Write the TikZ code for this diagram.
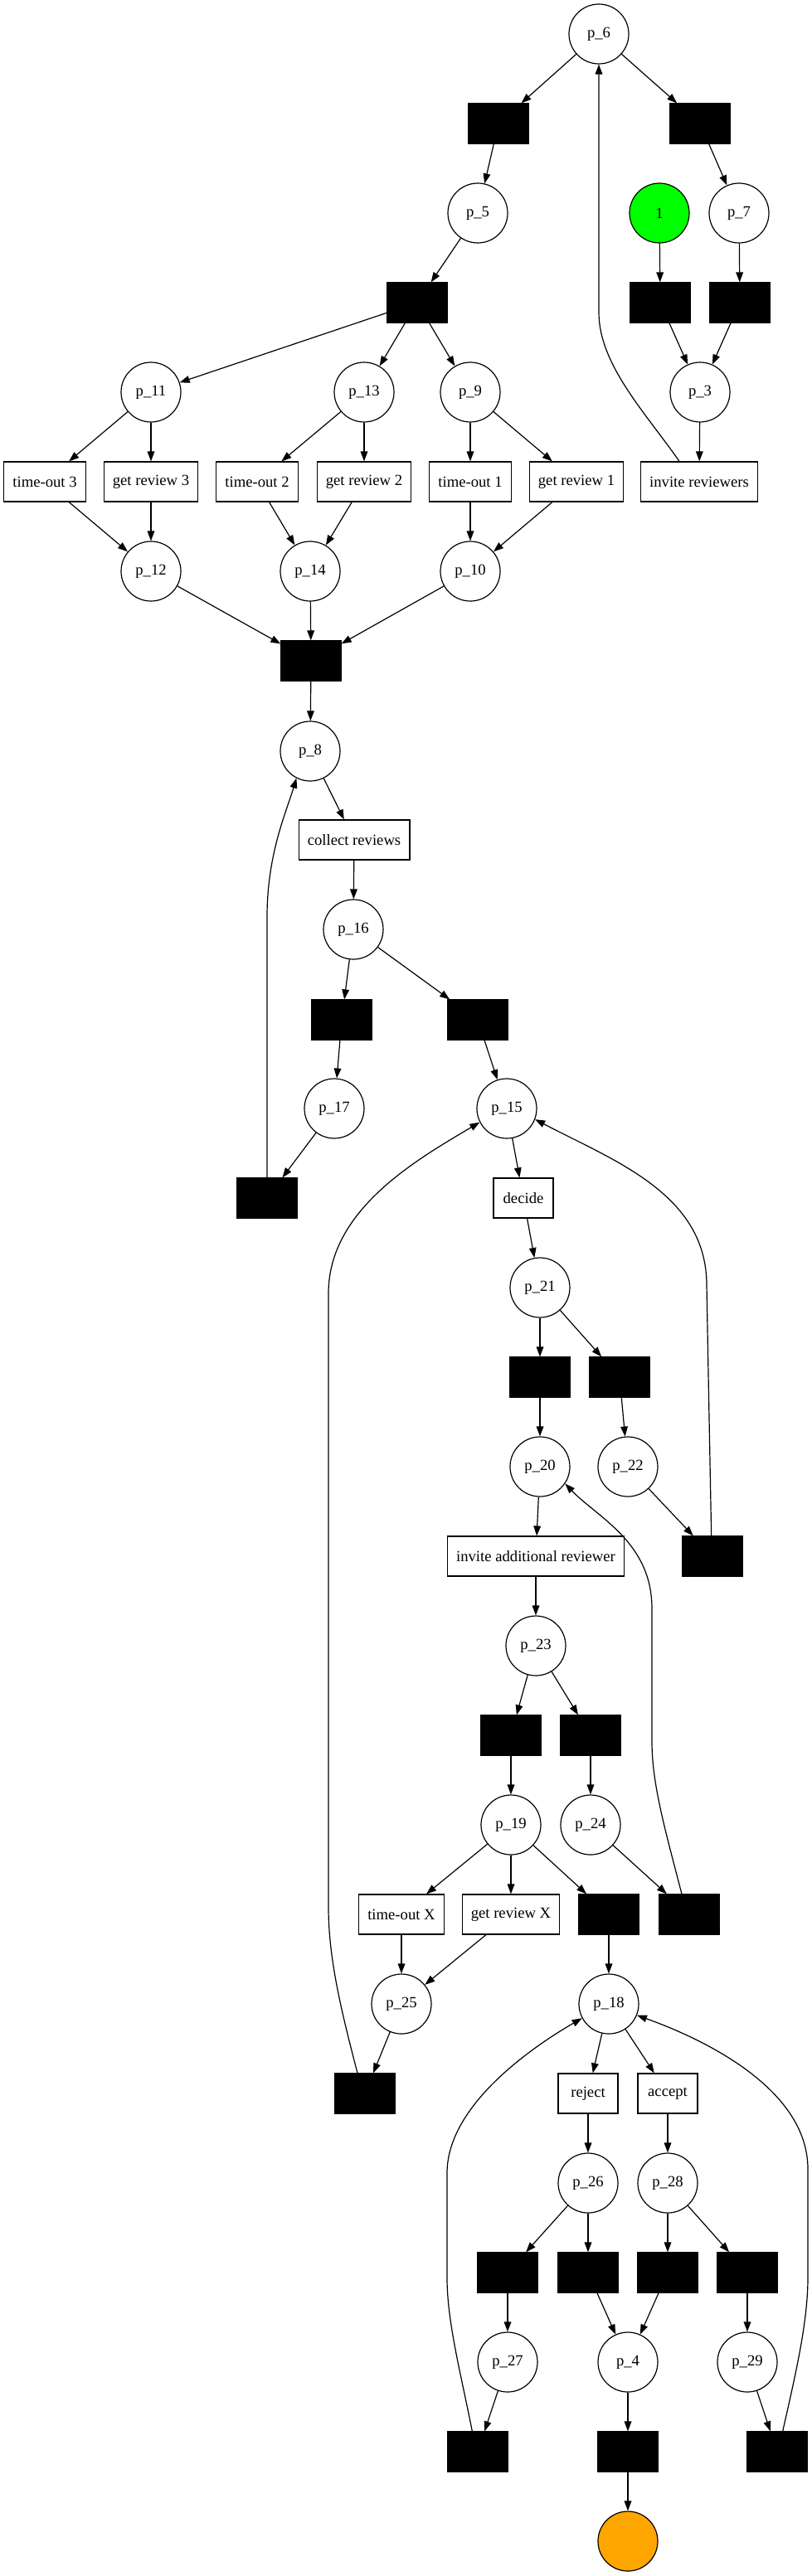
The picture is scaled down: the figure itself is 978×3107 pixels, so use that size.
\documentclass[tikz,border=0pt]{standalone}
\usepackage{fontspec}
\setmainfont{Liberation Serif}
\usetikzlibrary{arrows.meta}
\definecolor{tokengreen}{RGB}{0,255,0}
\definecolor{sinkorange}{RGB}{255,165,0}
\begin{document}
\begin{tikzpicture}[x=0.75pt,y=0.75pt,line width=0.9pt,
  font=\fontsize{14}{16}\selectfont,
  place/.style={circle,draw,minimum size=54pt,inner sep=0pt},
  silent/.style={rectangle,draw,fill=black,minimum width=54pt,minimum height=36pt,inner sep=0pt},
  task/.style={rectangle,draw,minimum width=54pt,minimum height=36pt,inner xsep=8pt,inner ysep=0pt},
  >={Triangle[length=9pt,width=6.5pt]}]
\useasboundingbox (0,0) rectangle (978,-3107);
% places and transitions, top part
\node[place] at (722,-41) (p6) {p\_6};
\node[silent] at (601,-149) (hA) {};\node[silent] at (844,-149) (hB) {};
\node[place] at (576,-257) (p5) {p\_5};\node[place,fill=tokengreen] at (795,-257) (src) {1};\node[place] at (891,-257) (p7) {p\_7};
\node[silent] at (503,-365) (hC) {};\node[silent] at (796,-365) (hD) {};\node[silent] at (892,-365) (hE) {};
\node[place] at (182,-473) (p11) {p\_11};\node[place] at (439,-473) (p13) {p\_13};
\node[place] at (567,-473) (p9) {p\_9};\node[place] at (844,-473) (p3) {p\_3};
\node[task] at (54,-581) (tout3) {time-out 3};\node[task] at (182,-581) (rev3) {get review 3};
\node[task] at (310,-581) (tout2) {time-out 2};\node[task] at (439,-581) (rev2) {get review 2};
\node[task] at (567,-581) (tout1) {time-out 1};\node[task] at (695,-581) (rev1) {get review 1};
\node[task] at (843,-581) (invrev) {invite reviewers};
\node[place] at (182,-689) (p12) {p\_12};\node[place] at (374,-689) (p14) {p\_14};\node[place] at (567,-689) (p10) {p\_10};
\node[silent] at (375,-797) (join) {};
% collecting and deciding
\node[place] at (374,-906) (p8) {p\_8};
\node[task] at (427,-1013) (collect) {collect reviews};
\node[place] at (426,-1121) (p16) {p\_16};
\node[silent] at (412,-1230) (hF) {};\node[silent] at (576,-1230) (hG) {};
\node[place] at (403,-1337) (p17) {p\_17};\node[place] at (611,-1337) (p15) {p\_15};
\node[silent] at (322,-1445) (hH) {};\node[task] at (631,-1445) (decide) {decide};
\node[place] at (651,-1553) (p21) {p\_21};
\node[silent] at (651,-1661) (hI) {};\node[silent] at (747,-1661) (hJ) {};
\node[place] at (651,-1769) (p20) {p\_20};\node[place] at (757,-1769) (p22) {p\_22};
\node[task] at (646,-1877) (invadd) {invite additional reviewer};\node[silent] at (859,-1877) (hK) {};
\node[place] at (646,-1985) (p23) {p\_23};
\node[silent] at (616,-2093) (hL) {};\node[silent] at (712,-2093) (hM) {};
\node[place] at (616,-2201) (p19) {p\_19};\node[place] at (712,-2201) (p24) {p\_24};
\node[task] at (484,-2309) (toutX) {time-out X};\node[task] at (616,-2309) (revX) {get review X};
\node[silent] at (734,-2309) (hN) {};\node[silent] at (831,-2309) (hO) {};
% final part
\node[place] at (484,-2417) (p25) {p\_25};\node[place] at (734,-2417) (p18) {p\_18};
\node[silent] at (440,-2525) (hP) {};\node[task] at (709,-2525) (reject) {reject};\node[task] at (805,-2525) (accept) {accept};
\node[place] at (709,-2633) (p26) {p\_26};\node[place] at (805,-2633) (p28) {p\_28};
\node[silent] at (612,-2741) (hQ) {};\node[silent] at (709,-2741) (hR) {};
\node[silent] at (805,-2741) (hS) {};\node[silent] at (901,-2741) (hT) {};
\node[place] at (612,-2849) (p27) {p\_27};\node[place] at (757,-2849) (p4) {p\_4};\node[place] at (901,-2849) (p29) {p\_29};
\node[silent] at (576,-2957) (hU) {};\node[silent] at (757,-2957) (hV) {};\node[silent] at (937,-2957) (hW) {};
\node[place,fill=sinkorange] at (757,-3065) (sink) {};
% arcs
\draw[->] (p6) -- (hA);\draw[->] (p6) -- (hB);
\draw[->] (hA) -- (p5);\draw[->] (hB) -- (p7);
\draw[->] (p5) -- (hC);\draw[->] (src) -- (hD);\draw[->] (p7) -- (hE);
\draw[->] (hD) -- (p3);\draw[->] (hE) -- (p3);
\draw[->] (hC) -- (p11);\draw[->] (hC) -- (p13);\draw[->] (hC) -- (p9);
\draw[->] (p3) -- (invrev);
\draw[->] ([xshift=-18pt]invrev.north) .. controls (780,-500) and (722,-440) .. (722,-377) -- (p6.south);
\draw[->] (p11) -- (tout3);\draw[->] (p11) -- (rev3);
\draw[->] (p13) -- (tout2);\draw[->] (p13) -- (rev2);
\draw[->] (p9) -- (tout1);\draw[->] (p9) -- (rev1);
\draw[->] (tout3) -- (p12);\draw[->] (rev3) -- (p12);
\draw[->] (tout2) -- (p14);\draw[->] (rev2) -- (p14);
\draw[->] (tout1) -- (p10);\draw[->] (rev1) -- (p10);
\draw[->] (p12) -- (join);\draw[->] (p14) -- (join);\draw[->] (p10) -- (join);
\draw[->] (join) -- (p8);
\draw[->] (p8) -- (collect);\draw[->] (collect) -- (p16);
\draw[->] (p16) -- (hF);\draw[->] (p16) -- (hG);
\draw[->] (hF) -- (p17);\draw[->] (hG) -- (p15);
\draw[->] (p17) -- (hH);
\draw[->] (hH.north) -- (322,-1106) .. controls (322,-1030) and (345,-980) .. (p8.243);
\draw[->] (p15) -- (decide);\draw[->] (decide) -- (p21);
\draw[->] (p21) -- (hI);\draw[->] (p21) -- (hJ);
\draw[->] (hI) -- (p20);\draw[->] (hJ) -- (p22);
\draw[->] (p22) -- (hK);
\draw[->] ([xshift=-1pt]hK.north) -- (852,-1550) .. controls (852,-1440) and (740,-1400) .. (p15.-21);
\draw[->] (p20) -- (invadd);\draw[->] (invadd) -- (p23);
\draw[->] (p23) -- (hL);\draw[->] (p23) -- (hM);
\draw[->] (hL) -- (p19);\draw[->] (hM) -- (p24);
\draw[->] (p19) -- (toutX);\draw[->] (p19) -- (revX);\draw[->] (p19) -- (hN);
\draw[->] (p24) -- (hO);
\draw[->] ([xshift=-6.75pt]hO.north) .. controls (800,-2200) and (786,-2150) .. (786,-2100) -- (786,-1940) .. controls (786,-1860) and (720,-1830) .. (p20.-34);
\draw[->] (toutX) -- (p25);\draw[->] (revX) -- (p25);
\draw[->] (hN) -- (p18);
\draw[->] (p25) -- (hP);
\draw[->] ([xshift=-6.75pt]hP.north) .. controls (410,-2420) and (396,-2360) .. (396,-2300) -- (396,-1560) .. controls (396,-1460) and (500,-1400) .. (p15.207);
\draw[->] (p18) -- (reject);\draw[->] (p18) -- (accept);
\draw[->] (reject) -- (p26);\draw[->] (accept) -- (p28);
\draw[->] (p26) -- (hQ);\draw[->] (p26) -- (hR);
\draw[->] (p28) -- (hS);\draw[->] (p28) -- (hT);
\draw[->] (hQ) -- (p27);\draw[->] (hR) -- (p4);\draw[->] (hS) -- (p4);\draw[->] (hT) -- (p29);
\draw[->] (p27) -- (hU);\draw[->] (p4) -- (hV);\draw[->] (p29) -- (hW);
\draw[->] (hV) -- (sink);
\draw[->] ([xshift=-5pt]hU.north) .. controls (555,-2860) and (539,-2800) .. (539,-2747) -- (539,-2621) .. controls (539,-2540) and (640,-2470) .. (p18.208);
\draw[->] ([xshift=5pt]hW.north) .. controls (960,-2860) and (974,-2800) .. (974,-2747) -- (974,-2616) .. controls (974,-2520) and (850,-2460) .. (p18.-22);
\end{tikzpicture}
\end{document}
